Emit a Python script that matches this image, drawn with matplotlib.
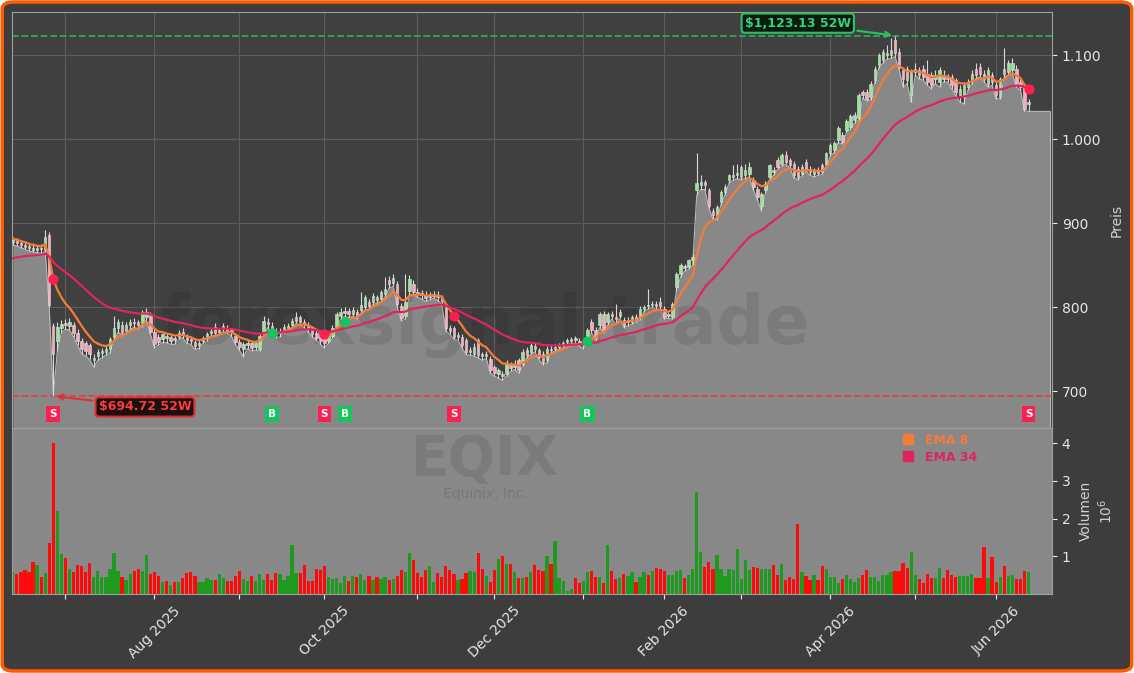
import matplotlib
matplotlib.use("Agg")
import matplotlib.pyplot as plt
import matplotlib.transforms as mtransforms
from matplotlib.patches import FancyBboxPatch
from matplotlib.lines import Line2D
from matplotlib.ticker import FuncFormatter
import numpy as np
import pandas as pd

# Handelstage (NYSE-Feiertage)
feiertage = ['2025-06-19', '2025-07-04', '2025-09-01', '2025-11-27', '2025-12-25',
             '2026-01-01', '2026-01-19', '2026-02-16', '2026-04-03', '2026-05-25']
tage = pd.bdate_range('2025-06-11', '2026-06-11', freq='C', holidays=feiertage)

# Kurse EQIX
opens = [878, 880, 876, 874, 873, 871, 868, 871, 868, 886,
         778, 760, 776, 781, 778, 779, 770, 760, 757, 755,
         737, 742, 746, 747, 750, 765, 775, 779, 772, 779,
         783, 782, 780, 789, 791, 771, 765, 762, 766, 760,
         763, 765, 771, 765, 762, 759, 755, 760, 763, 770,
         777, 771, 775, 776, 773, 766, 759, 750, 755, 757,
         753, 751, 771, 783, 778, 771, 769, 774, 775, 779,
         784, 788, 782, 779, 775, 770, 768, 764, 760, 766,
         777, 790, 793, 796, 792, 795, 797, 800, 806, 806,
         812, 810, 816, 832, 829, 828, 802, 790, 820, 828,
         818, 817, 815, 812, 814, 815, 812, 800, 775, 775,
         765, 765, 761, 747, 745, 761, 744, 742, 739, 729,
         721, 721, 721, 731, 729, 737, 733, 749, 747, 754,
         749, 745, 737, 751, 751, 753, 755, 759, 760, 763,
         760, 755, 761, 782, 773, 779, 792, 782, 792, 788,
         790, 785, 782, 783, 788, 788, 798, 803, 803, 804,
         806, 798, 790, 789, 824, 840, 849, 848, 856, 940,
         945, 949, 939, 915, 908, 925, 937, 951, 955, 957,
         955, 957, 959, 951, 941, 921, 939, 955, 963, 975,
         971, 981, 975, 971, 965, 959, 973, 965, 959, 963,
         969, 969, 983, 987, 999, 1005, 1011, 1015, 1023, 1025,
         1056, 1056, 1050, 1070, 1088, 1094, 1100, 1100, 1118, 1104,
         1082, 1084, 1052, 1080, 1082, 1084, 1078, 1076, 1072, 1068,
         1076, 1074, 1074, 1070, 1052, 1050, 1062, 1070, 1084, 1086,
         1078, 1066, 1076, 1064, 1050, 1084, 1080, 1082, 1084, 1068,
         1062, 1042]
highs = [884, 883, 880, 879, 877, 876, 874, 875, 892, 889,
         781, 782, 785, 786, 787, 783, 774, 764, 760, 758,
         745, 750, 752, 755, 765, 790, 786, 784, 783, 786,
         787, 785, 797, 799, 795, 774, 768, 771, 770, 768,
         766, 773, 776, 768, 766, 762, 761, 766, 771, 776,
         781, 776, 781, 779, 776, 769, 762, 759, 761, 760,
         760, 768, 790, 787, 782, 775, 775, 780, 781, 787,
         794, 791, 786, 782, 778, 773, 771, 767, 770, 779,
         795, 799, 800, 799, 800, 798, 818, 815, 810, 817,
         815, 821, 836, 837, 840, 831, 805, 840, 838, 832,
         823, 821, 819, 818, 820, 819, 815, 803, 779, 778,
         771, 768, 764, 753, 757, 764, 747, 748, 742, 732,
         728, 724, 737, 735, 737, 740, 750, 753, 758, 758,
         752, 748, 754, 755, 756, 758, 760, 764, 765, 766,
         763, 761, 776, 786, 777, 795, 796, 795, 796, 804,
         798, 789, 788, 791, 792, 801, 803, 822, 808, 807,
         812, 801, 795, 806, 842, 853, 852, 858, 864, 984,
         957, 952, 942, 918, 922, 940, 947, 959, 969, 971,
         969, 971, 973, 955, 944, 937, 950, 971, 967, 979,
         983, 986, 978, 974, 968, 970, 976, 968, 966, 967,
         972, 985, 996, 998, 1016, 1009, 1024, 1030, 1032, 1055,
         1059, 1060, 1069, 1087, 1103, 1107, 1112, 1120, 1123.13, 1108,
         1086, 1087, 1084, 1090, 1086, 1088, 1094, 1080, 1082, 1086,
         1082, 1078, 1078, 1073, 1064, 1068, 1072, 1082, 1090, 1090,
         1082, 1086, 1080, 1068, 1074, 1108, 1094, 1096, 1088, 1072,
         1065, 1048]
lows = [874, 873, 871, 869, 867, 866, 865, 864, 866, 800,
        694.72, 748, 770, 774, 773, 765, 755, 745, 742, 738,
        729, 737, 740, 743, 746, 762, 770, 768, 768, 774,
        776, 774, 777, 785, 768, 752, 755, 758, 758, 756,
        756, 762, 764, 757, 756, 750, 751, 757, 760, 766,
        766, 768, 771, 769, 766, 756, 749, 741, 751, 748,
        749, 748, 768, 776, 769, 764, 765, 770, 772, 776,
        781, 779, 776, 771, 765, 761, 756, 752, 757, 763,
        774, 786, 789, 788, 789, 786, 793, 797, 798, 803,
        805, 807, 812, 823, 825, 800, 784, 786, 816, 815,
        812, 810, 807, 809, 811, 808, 804, 772, 768, 762,
        761, 752, 744, 743, 742, 740, 737, 739, 722, 718,
        716, 713, 718, 724, 726, 722, 730, 740, 744, 747,
        738, 732, 734, 746, 748, 750, 752, 756, 757, 757,
        754, 751, 758, 770, 760, 776, 770, 779, 786, 780,
        787, 776, 778, 780, 782, 785, 795, 798, 800, 797,
        798, 786, 787, 786, 820, 836, 843, 845, 850, 933,
        940, 940, 918, 905, 904, 922, 934, 948, 951, 953,
        952, 953, 955, 940, 928, 915, 936, 952, 957, 964,
        968, 970, 966, 954, 952, 956, 962, 957, 955, 957,
        958, 966, 980, 984, 996, 994, 1008, 1012, 1019, 1022,
        1049, 1045, 1047, 1067, 1085, 1090, 1095, 1096, 1098, 1083,
        1062, 1066, 1044, 1076, 1072, 1070, 1064, 1060, 1066, 1062,
        1068, 1068, 1060, 1052, 1044, 1042, 1058, 1066, 1072, 1074,
        1068, 1062, 1064, 1048, 1048, 1074, 1076, 1078, 1062, 1058,
        1034, 1033]
closes = [880, 876, 874, 872, 870, 868, 871, 869, 884, 803,
          745, 777, 780, 779, 782, 769, 760, 751, 748, 744,
          740, 747, 748, 751, 762, 775, 782, 771, 779, 782,
          781, 779, 794, 794, 771, 756, 759, 768, 763, 765,
          761, 769, 767, 761, 760, 754, 758, 763, 768, 772,
          769, 773, 778, 772, 771, 759, 753, 756, 757, 752,
          757, 766, 784, 780, 773, 768, 772, 777, 778, 784,
          789, 783, 780, 775, 768, 764, 760, 758, 767, 776,
          792, 795, 796, 792, 797, 790, 803, 812, 801, 814,
          809, 818, 822, 828, 835, 804, 787, 806, 834, 818,
          816, 815, 811, 814, 816, 812, 808, 775, 772, 765,
          767, 755, 747, 749, 753, 743, 742, 744, 725, 722,
          725, 718, 733, 728, 733, 725, 747, 743, 755, 751,
          741, 735, 751, 749, 753, 755, 757, 761, 762, 761,
          757, 758, 773, 773, 763, 792, 773, 792, 790, 786,
          794, 779, 785, 788, 786, 798, 800, 801, 804, 801,
          802, 789, 792, 804, 840, 850, 847, 856, 860, 948,
          949, 945, 921, 910, 919, 937, 943, 957, 957, 960,
          967, 963, 967, 943, 931, 935, 947, 969, 961, 967,
          981, 973, 969, 957, 955, 967, 965, 961, 963, 960,
          961, 983, 993, 995, 1013, 997, 1021, 1027, 1029, 1052,
          1052, 1048, 1066, 1084, 1100, 1104, 1102, 1106, 1102, 1086,
          1072, 1070, 1080, 1084, 1076, 1074, 1068, 1064, 1076, 1082,
          1072, 1072, 1064, 1056, 1060, 1064, 1068, 1078, 1076, 1078,
          1072, 1082, 1068, 1052, 1072, 1078, 1090, 1090, 1066, 1062,
          1036, 1044]

# Volumen in Mio. Stück
volumen = [0.58, 0.53, 0.58, 0.63, 0.58, 0.86, 0.76, 0.46, 0.55, 1.35,
           4.0, 2.2, 1.05, 0.95, 0.67, 0.58, 0.77, 0.73, 0.58, 0.83,
           0.46, 0.61, 0.46, 0.46, 0.67, 1.10, 0.61, 0.46, 0.37, 0.52,
           0.61, 0.67, 0.61, 1.04, 0.52, 0.58, 0.49, 0.31, 0.34, 0.24,
           0.31, 0.33, 0.43, 0.55, 0.58, 0.49, 0.31, 0.31, 0.43, 0.37,
           0.37, 0.52, 0.43, 0.34, 0.34, 0.49, 0.61, 0.40, 0.34, 0.49,
           0.34, 0.52, 0.37, 0.52, 0.37, 0.55, 0.52, 0.37, 0.49, 1.30,
           0.55, 0.55, 0.77, 0.34, 0.34, 0.67, 0.64, 0.73, 0.46, 0.40,
           0.43, 0.28, 0.49, 0.34, 0.49, 0.46, 0.52, 0.37, 0.49, 0.37,
           0.46, 0.40, 0.46, 0.37, 0.40, 0.49, 0.64, 0.58, 1.10, 0.89,
           0.55, 0.46, 0.64, 0.73, 0.31, 0.55, 0.46, 0.73, 0.64, 0.52,
           0.37, 0.40, 0.55, 0.61, 0.58, 1.10, 0.67, 0.49, 0.31, 0.64,
           0.92, 1.00, 0.80, 0.80, 0.58, 0.43, 0.43, 0.46, 0.58, 0.77,
           0.64, 0.61, 1.00, 0.80, 1.40, 0.43, 0.34, 0.09, 0.12, 0.43,
           0.28, 0.34, 0.58, 0.61, 0.46, 0.46,
           0.29, 1.29, 0.60, 0.40, 0.43, 0.54, 0.49, 0.57, 0.31, 0.46,
           0.57, 0.51, 0.60, 0.69, 0.65, 0.60, 0.51, 0.51, 0.60, 0.63,
           0.43, 0.51, 0.66, 2.70, 1.11, 0.71, 0.86, 0.66, 1.03, 0.66,
           0.49, 0.66, 0.63, 1.20, 0.40, 0.89, 0.63, 0.71, 0.69, 0.66,
           0.66, 0.66, 0.77, 0.51, 0.80, 0.37, 0.46, 0.40, 1.85, 0.57,
           0.49, 0.37, 0.51, 0.37, 0.74, 0.66, 0.46, 0.46, 0.29, 0.40,
           0.51, 0.40, 0.31, 0.43, 0.51, 0.63, 0.46, 0.46, 0.34, 0.51,
           0.51, 0.57, 0.60, 0.60, 0.83, 0.69, 1.11, 0.51, 0.40, 0.29,
           0.54, 0.43, 0.43, 0.69, 0.43, 0.63, 0.51, 0.46, 0.49, 0.49,
           0.49, 0.54, 0.43, 0.43, 1.25, 0.43, 0.97, 0.31, 0.46, 0.74,
           0.49, 0.51, 0.40, 0.40, 0.60, 0.57]

# EMA-Startwerte und Signale
ema8_start = 882
ema34_start = 857
signal_idx = [10, 64, 77, 82, 109, 142, 251]
signal_typ = ['S', 'B', 'S', 'B', 'S', 'B', 'S']

o = np.array(opens, dtype=float)
h = np.array(highs, dtype=float)
l = np.array(lows, dtype=float)
c = np.array(closes, dtype=float)
v = np.array(volumen)
n = len(c)
x = np.arange(n)


def ema(werte, span, start):
    s = pd.Series([start] + list(werte), dtype=float)
    return s.ewm(span=span, adjust=False).mean().to_numpy()[1:]


ema8 = ema(c, 8, ema8_start)
ema34 = ema(c, 34, ema34_start)

hoch, tief = h.max(), l.min()
i_hoch, i_tief = int(h.argmax()), int(l.argmin())
y_unten, y_oben = tief * 0.945, hoch * 1.025

C8, C34 = '#f47b3a', '#e0245e'
HELL = '#e6e6e6'

fig = plt.figure(figsize=(11.34, 6.73), dpi=100, facecolor='white')
fig.patches.append(FancyBboxPatch((0.002, 0.003), 0.996, 0.994,
                                  boxstyle='round,pad=0,rounding_size=0.01',
                                  transform=fig.transFigure, fc='#3d3d3d',
                                  ec='#ff5a00', lw=2.5, zorder=-10))

ax = fig.add_axes([12 / 1134, 1 - 428 / 673, 1040 / 1134, 416 / 673])
axv = fig.add_axes([12 / 1134, 1 - 594 / 673, 1040 / 1134, 166 / 673], sharex=ax)
ax.set_facecolor('#404040')
axv.set_facecolor('#888888')

# Fläche unter den Tiefs
xf = np.append(x, n + 4.3)
lf = np.append(l, l[-1])
ax.fill_between(xf, lf, y_unten, color='#888888', lw=0, zorder=1)
ax.plot(xf, lf, color='#b8b8b8', lw=0.8, zorder=1.1)
ax.vlines(xf[-1], y_unten, lf[-1], color='#b8b8b8', lw=0.8, zorder=1.1)

ax.text(0.455, 0.248, 'forexsignal.trade', transform=ax.transAxes, ha='center',
        va='center', fontsize=48, fontweight='bold', color='black', alpha=0.09, zorder=1.5)

# Kerzen
auf = c >= o
ax.vlines(x, l, h, color='#d8d8d8', lw=0.8, zorder=3)
ax.bar(x, np.maximum(np.abs(c - o), 0.8), bottom=np.minimum(o, c), width=0.6,
       color=np.where(auf, '#98e698', '#ffa8bc'), edgecolor='#e0e0e0', lw=0.4, zorder=4)

ax.plot(x, ema8, color=C8, lw=1.6, zorder=5)
ax.plot(x, ema34, color=C34, lw=1.6, zorder=5)

# 52-Wochen-Linien
ax.axhline(hoch, color='#2fa760', ls='--', lw=1.3, zorder=2)
ax.axhline(tief, color='#e04444', ls='--', lw=1.3, zorder=2)
ax.annotate(f'${hoch:,.2f} 52W', xy=(i_hoch, hoch), xytext=(-70, 9),
            textcoords='offset points', ha='center', va='center', color='#35d07a',
            fontsize=9, fontweight='bold', zorder=8,
            bbox=dict(boxstyle='round,pad=0.25', fc='#0c1a10', ec='#2fbf6a', lw=1.5),
            arrowprops=dict(arrowstyle='->', color='#2fbf6a', lw=1.5))
ax.annotate(f'${tief:,.2f} 52W', xy=(i_tief, tief), xytext=(66, -8),
            textcoords='offset points', ha='center', va='center', color='#ff3b3b',
            fontsize=9, fontweight='bold', zorder=8,
            bbox=dict(boxstyle='round,pad=0.25', fc='#1a1010', ec='#e03030', lw=1.5),
            arrowprops=dict(arrowstyle='->', color='#e03030', lw=1.5))

# Kauf-/Verkaufssignale
trans = mtransforms.blended_transform_factory(ax.transData, ax.transAxes)
for i, typ in zip(signal_idx, signal_typ):
    farbe = '#14c45c' if typ == 'B' else '#ff1f4f'
    ax.scatter(i, ema8[i], s=40, color=farbe, zorder=6)
    ax.text(i, 0.034, typ, transform=trans, ha='center', va='center', color='white',
            fontsize=7.5, fontweight='bold', zorder=7,
            bbox=dict(boxstyle='square,pad=0.3', fc=farbe, ec='none'))

ax.set_ylim(y_unten, y_oben)
ax.set_xlim(-0.2, n + 4.8)
ax.yaxis.tick_right()
ax.yaxis.set_label_position('right')
ax.yaxis.set_major_formatter(FuncFormatter(lambda val, pos: f'{val:,.0f}'.replace(',', '.')))
ax.set_ylabel('Preis', color='#d0d0d0', fontsize=10, labelpad=6)
ax.tick_params(axis='y', colors=HELL, labelsize=10)
ax.tick_params(axis='x', bottom=False, labelbottom=False)
ax.set_axisbelow(True)
ax.grid(True, color='#5c5c5c', lw=0.8)

# Volumen
axv.bar(x, v, width=0.8, color=np.where(auf, '#1e9a1e', '#ff0a0a'), zorder=2)
axv.set_ylim(0, v.max() * 1.1)
axv.yaxis.tick_right()
axv.yaxis.set_label_position('right')
axv.set_yticks([1, 2, 3, 4])
axv.set_ylabel('Volumen\n$10^6$', color='#d0d0d0', fontsize=10, labelpad=6)
axv.tick_params(axis='y', colors=HELL, labelsize=10)
axv.text(0.455, 0.81, 'EQIX', transform=axv.transAxes, ha='center', va='center',
         fontsize=40, fontweight='bold', color='black', alpha=0.09, zorder=1)
axv.text(0.455, 0.6, 'Equinix, Inc.', transform=axv.transAxes, ha='center', va='center',
         fontsize=10, color='black', alpha=0.12, zorder=1)

ms = [i for i in range(1, n) if tage[i].month != tage[i - 1].month]
axv.set_xticks(ms)
axv.set_xticklabels([tage[i].strftime('%b %Y') if tage[i].month % 2 == 0 else '' for i in ms],
                    rotation=45)
axv.tick_params(axis='x', colors=HELL, labelsize=10)

axv.legend([Line2D([], [], marker='s', ls='none', color=C8, markersize=7),
            Line2D([], [], marker='s', ls='none', color=C34, markersize=7)],
           ['EMA 8', 'EMA 34'], loc='upper right', bbox_to_anchor=(0.935, 1.01),
           frameon=False, labelcolor=[C8, C34], prop={'weight': 'bold', 'size': 9},
           handletextpad=0.3, borderaxespad=0.2, labelspacing=0.3)

for a in (ax, axv):
    for s in a.spines.values():
        s.set_color('#a0a0a0')

fig.savefig('out.png', dpi=100, facecolor=fig.get_facecolor())
